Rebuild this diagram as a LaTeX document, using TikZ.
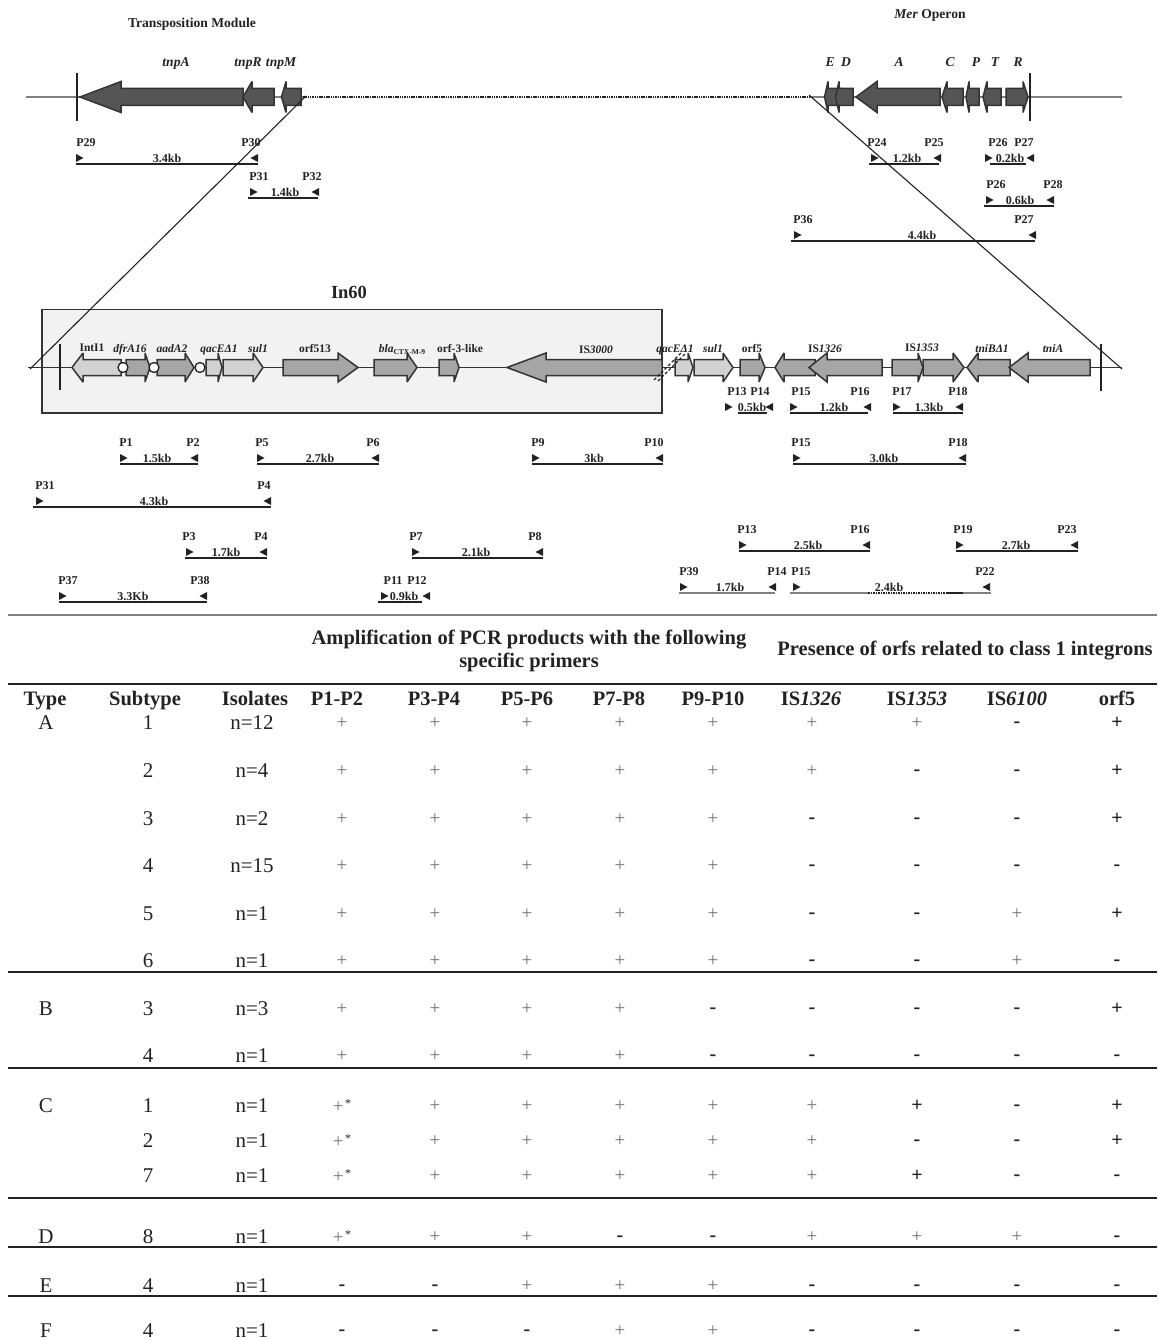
\documentclass[tikz,border=0pt]{standalone}
\usepackage{fontspec}
\setmainfont{Liberation Serif}
\definecolor{ink}{HTML}{222222}
\definecolor{edge}{HTML}{333333}
\definecolor{darkgene}{HTML}{555555}
\definecolor{midgene}{HTML}{A6A6A6}
\definecolor{lightgene}{HTML}{D2D2D2}
\definecolor{boxfill}{HTML}{F2F2F2}
\definecolor{wire}{HTML}{808080}
\definecolor{plusgray}{HTML}{707070}
\newcommand{\fs}[1]{\fontsize{#1}{#1}\selectfont}
% tail x, head-back x, tip x, centre y, half body, half head, fill
\newcommand{\gene}[7]{\fill[#7,draw=edge,line width=1.5pt,line join=miter,miter limit=3]
  (#1,#4-#5) -- (#2,#4-#5) -- (#2,#4-#6) -- (#3,#4) -- (#2,#4+#6) -- (#2,#4+#5) -- (#1,#4+#5) -- cycle;}
\newcommand{\cellp}{\textcolor{plusgray}{\fs{19}+}}
\newcommand{\cellP}{\textbf{\fs{20}+}}
\newcommand{\cells}{\textcolor{plusgray}{\fs{19}+}\,\raisebox{5pt}{\fs{12}*}}
\newcommand{\cellm}{\smash{\raisebox{-4.5pt}{\textbf{\fs{20}-}}}}
\tikzset{
  toplabel/.style={font=\bfseries\fs{13.6},text=ink,inner sep=0pt,anchor=base},
  genetop/.style={font=\bfseries\itshape\fs{13.5},text=ink,inner sep=0pt,anchor=base},
  genelabel/.style={font=\bfseries\itshape\fs{11.5},text=ink,inner sep=0pt,anchor=base},
  genelabelup/.style={font=\bfseries\fs{11.5},text=ink,inner sep=0pt,anchor=base},
  primer/.style={font=\bfseries\fs{12},text=ink,inner sep=0pt,anchor=center},
  ampline/.style={draw=ink,line width=1.6pt},
  headcell/.style={font=\bfseries\fs{20.5},text=ink,inner sep=0pt,anchor=base},
  bodycell/.style={font=\fs{21},text=ink,inner sep=0pt,anchor=base},
  markcell/.style={text=ink,inner sep=0pt,anchor=center},
  rulethick/.style={draw=ink,line width=1.4pt},
  markerc/.style={draw=ink,fill=white,line width=1.3pt},
}
\begin{document}
\begin{tikzpicture}[x=1pt,y=-1pt]
\useasboundingbox (0,0) rectangle (1157,1340);
% titles
\node[toplabel] (ttrans) at (192,28) {Transposition Module};
\node[toplabel] (tmer) at (930,19) {\textit{Mer} Operon};
% top backbone
\coordinate (tl) at (26,97); \coordinate (tr) at (1122,97);
\coordinate (dl) at (303,97); \coordinate (dr) at (810,97);
\draw[wire,line width=1.2pt] (tl) -- (dl);
\draw[wire,line width=1.2pt] (dr) -- (tr);
\draw[ink,line width=1.8pt,dash pattern=on 1.5pt off 0.8pt] (dl) -- (dr);
\gene{243}{121}{80}{97}{8.5}{15.5}{darkgene}
\gene{274}{252}{243}{97}{8.5}{15.5}{darkgene}
\gene{301}{286}{281.5}{97}{8.5}{15.5}{darkgene}
\gene{840}{828}{824.5}{97}{8.5}{15.5}{darkgene}
\gene{853}{839}{835.5}{97}{8.5}{15.5}{darkgene}
\gene{940}{877}{856}{97}{8.5}{15.5}{darkgene}
\gene{963}{947}{942}{97}{8.5}{15.5}{darkgene}
\gene{979}{969}{966}{97}{8.5}{15.5}{darkgene}
\gene{1001}{987}{983}{97}{8.5}{15.5}{darkgene}
\gene{1006}{1023}{1028}{97}{8.5}{15.5}{darkgene}
\draw[ink,line width=2pt] (77,73) -- (77,121);
\draw[ink,line width=2pt] (1030,73) -- (1030,121);
\foreach \t/\x [count=\i] in {tnpA/176,tnpR/248,tnpM/281,E/830,D/846,A/899,C/950,P/976,T/995,R/1018}
  \node[genetop] (top\i) at (\x,67) {\t};
% box
\fill[boxfill,draw=edge,line width=1.6pt] (42,309.5) rectangle (662,413);
\node[font=\bfseries\fs{18.5},text=ink,inner sep=0pt] (in60) at (349,292) {In60};
% middle backbone
\coordinate (ml) at (28,367.5); \coordinate (mr) at (1122,367.5);
\draw[edge,line width=1.2pt] (ml) -- (mr);
% diagonals
\coordinate (dgl) at (30,369); \coordinate (dgr) at (1122,369);
\coordinate (dgla) at (306,96); \coordinate (dgra) at (809,95);
\draw[ink,line width=1.1pt] (dgla) -- (dgl);
\draw[ink,line width=1.1pt] (dgra) -- (dgr);
% integron genes
\gene{121}{83}{72}{367.5}{8}{14.5}{lightgene}
\gene{126}{145}{150}{367.5}{8}{14.5}{midgene}
\gene{157}{185}{194}{367.5}{8}{14.5}{midgene}
\gene{206}{218}{222}{367.5}{8}{14.5}{lightgene}
\gene{223}{253}{263}{367.5}{8}{14.5}{lightgene}
\gene{283}{338}{358}{367.5}{8}{14.5}{midgene}
\gene{374}{407}{417}{367.5}{8}{14.5}{midgene}
\gene{439}{454}{459}{367.5}{8}{14.5}{midgene}
\gene{662}{546}{507}{367.5}{8}{14.5}{midgene}
\gene{675}{688}{693}{367.5}{8}{14.5}{lightgene}
\gene{694}{723}{733}{367.5}{8}{14.5}{lightgene}
\gene{740}{759}{765}{367.5}{8}{14.5}{midgene}
\gene{815}{784}{775}{367.5}{8}{14.5}{midgene}
\gene{882}{827}{809}{367.5}{8}{14.5}{midgene}
\gene{892}{918}{923}{367.5}{8}{14.5}{midgene}
\gene{923}{953}{964}{367.5}{8}{14.5}{midgene}
\gene{1010}{978}{967}{367.5}{8}{14.5}{midgene}
\gene{1090}{1028}{1009}{367.5}{8}{14.5}{midgene}
\foreach \x in {123,154,200} \draw[markerc] (\x,367.5) circle (5);
% break marks
\draw[ink,line width=1.2pt,dash pattern=on 3pt off 2pt] (654,380) -- (681,353);
\draw[ink,line width=1.2pt,dash pattern=on 3pt off 2pt] (658,381) -- (685,354);
% ticks
\draw[ink,line width=2pt] (60,344) -- (60,390);
\draw[ink,line width=2pt] (1101,344) -- (1101,391);
% gene labels
\foreach \t/\x [count=\i] in {dfrA16/130,aadA2/172,qacEΔ1/219,sul1/258,qacEΔ1/675,sul1/713}
  \node[genelabel] (ig\i) at (\x,352) {\t};
\node[genelabelup] (lintI) at (92,351) {IntI1};
\node[genelabelup] (lorf513) at (315,352) {orf513};
\node[genelabel] (lbla) at (402,352) {bla\raisebox{-2pt}{\upshape\fs{7.5}CTX-M-9}};
\node[genelabelup] (lorf3) at (460,352) {orf-3-like};
\node[genelabelup] (lis3000) at (596,353) {IS\textit{3000}};
\node[genelabelup] (lorf5) at (752,352) {orf5};
\node[genelabelup] (lis1326) at (825,352) {IS\textit{1326}};
\node[genelabelup] (lis1353) at (922,351) {IS\textit{1353}};
\node[genelabel] (ltnib) at (992,352) {tniBΔ1};
\node[genelabel] (ltnia) at (1053,352) {tniA};
% amplicons: line start/end, line y, tri start, tri end, left label+x, right label+x, size+x
\foreach \xa/\xb/\yy/\ta/\tb/\la/\pa/\lb/\pb/\k/\pk [count=\n] in {
 76/258/164/76/258/P29/86/P30/251/3.4kb/167,
 248/318/198/250/319/P31/259/P32/312/1.4kb/285,
 869/939/164/871/941/P24/877/P25/934/1.2kb/907,
 990/1026/164/985/1034/P26/998/P27/1024/0.2kb/1010,
 984/1054/206/986/1054/P26/996/P28/1053/0.6kb/1020,
 791/1035/241/794/1036/P36/803/P27/1024/4.4kb/922,
 738/767/413/725/773/P13/737/P14/760/0.5kb/752,
 790/868/413/790/871/P15/801/P16/860/1.2kb/834,
 893/963/413/893/963/P17/902/P18/958/1.3kb/929,
 120/198/464/120/198/P1/126/P2/193/1.5kb/157,
 257/379/464/257/379/P5/262/P6/373/2.7kb/320,
 532/663/464/532/663/P9/538/P10/654/3kb/594,
 793/966/464/793/966/P15/801/P18/958/3.0kb/884,
 33/271/507/36/271/P31/45/P4/264/4.3kb/154,
 185/267/558/186/267/P3/189/P4/261/1.7kb/226,
 412/543/558/412/543/P7/416/P8/535/2.1kb/476,
 59/207/602/59/207/P37/68/P38/200/3.3Kb/133,
 378/422/602/381/430/P11/393/P12/417/0.9kb/404,
 739/870/551/739/870/P13/747/P16/860/2.5kb/808,
 956/1078/551/956/1078/P19/963/P23/1067/2.7kb/1016%
}{
  \coordinate (a\n) at (\xa,\yy); \coordinate (b\n) at (\xb,\yy);
  \draw[ampline] (a\n) -- (b\n);
  \fill[ink] (\ta,\yy-10) -- (\ta+7.5,\yy-6) -- (\ta,\yy-2) -- cycle;
  \fill[ink] (\tb,\yy-10) -- (\tb-7.5,\yy-6) -- (\tb,\yy-2) -- cycle;
  \node[primer] (pa\n) at (\pa,\yy-21) {\la};
  \node[primer] (pb\n) at (\pb,\yy-21) {\lb};
  \node[primer] (kb\n) at (\pk,\yy-6) {\k};
}
% special amplicons in grey
\coordinate (g1a) at (679,593); \coordinate (g1b) at (775,593);
\draw[wire,line width=1.5pt] (g1a) -- (g1b);
\coordinate (g2a) at (790,593); \coordinate (g2b) at (868,593);
\coordinate (g2c) at (947,593); \coordinate (g2d) at (963,593); \coordinate (g2e) at (991,593);
\draw[wire,line width=1.5pt] (g2a) -- (g2b);
\draw[ink,line width=1.5pt,dash pattern=on 1.5pt off 1pt] (g2b) -- (g2c);
\draw[ink,line width=1.5pt] (g2c) -- (g2d);
\draw[wire,line width=1.5pt] (g2d) -- (g2e);
\foreach \ta/\tb in {680/776,793/990}{
  \fill[ink] (\ta,583) -- (\ta+7.5,587) -- (\ta,591) -- cycle;
  \fill[ink] (\tb,583) -- (\tb-7.5,587) -- (\tb,591) -- cycle;
}
\node[primer] (p39) at (689,572) {P39};
\node[primer] (p14b) at (777,572) {P14};
\node[primer] (p15b) at (801,572) {P15};
\node[primer] (p22) at (985,572) {P22};
\node[primer] (k17) at (730,587) {1.7kb};
\node[primer] (k24) at (889,587) {2.4kb};
% table rules
\draw[wire,line width=1.6pt] (8,615) -- (1157,615);
\draw[rulethick,line width=1.8pt] (8,684) -- (1157,684);
\foreach \yy in {972,1068,1198,1247,1296}
  \draw[rulethick] (8,\yy) -- (1157,\yy);
% table headings
\node[headcell] (h1) at (529,644) {Amplification of PCR products with the following};
\node[headcell] (h2) at (529,667) {specific primers};
\node[headcell] (h3) at (965,655) {Presence of orfs related to class 1 integrons};
\foreach \t/\x [count=\i] in {Type/45,Subtype/145,Isolates/255,P1-P2/337,P3-P4/434,P5-P6/527,P7-P8/619,P9-P10/713,IS\textit{1326}/811,IS\textit{1353}/917,IS\textit{6100}/1017,orf5/1117}
  \node[headcell] (col\i) at (\x,705) {\t};
% type letters
\foreach \t/\yy in {A/722,B/1008,C/1105,D/1236,E/1285,F/1330}
  \node[bodycell] (type\t) at (46,\yy+7) {\t};
% rows
\foreach \yy/\sub/\iso/\vals [count=\r] in {
 722/1/n=12/{p,p,p,p,p,p,p,m,P},
 770/2/n=4/{p,p,p,p,p,p,m,m,P},
 818/3/n=2/{p,p,p,p,p,m,m,m,P},
 865/4/n=15/{p,p,p,p,p,m,m,m,m},
 913/5/n=1/{p,p,p,p,p,m,m,p,P},
 960/6/n=1/{p,p,p,p,p,m,m,p,m},
 1008/3/n=3/{p,p,p,p,m,m,m,m,P},
 1055/4/n=1/{p,p,p,p,m,m,m,m,m},
 1105/1/n=1/{s,p,p,p,p,p,P,m,P},
 1140/2/n=1/{s,p,p,p,p,p,m,m,P},
 1175/7/n=1/{s,p,p,p,p,p,P,m,m},
 1236/8/n=1/{s,p,p,m,m,p,p,p,m},
 1285/4/n=1/{m,m,p,p,p,m,m,m,m},
 1330/4/n=1/{m,m,m,p,p,m,m,m,m}%
}{
  \node[bodycell] (sub\r) at (148,\yy+7) {\sub};
  \node[bodycell] (iso\r) at (252,\yy+7) {\iso};
  \foreach \v [count=\c] in \vals {
    \pgfmathsetmacro\cx{{342,435,527,620,713,812,917,1017,1117}[\c-1]}
    \node[markcell] (r\r c\c) at (\cx,\yy+1) {\csname cell\v\endcsname};
  }
}
\end{tikzpicture}
\end{document}
